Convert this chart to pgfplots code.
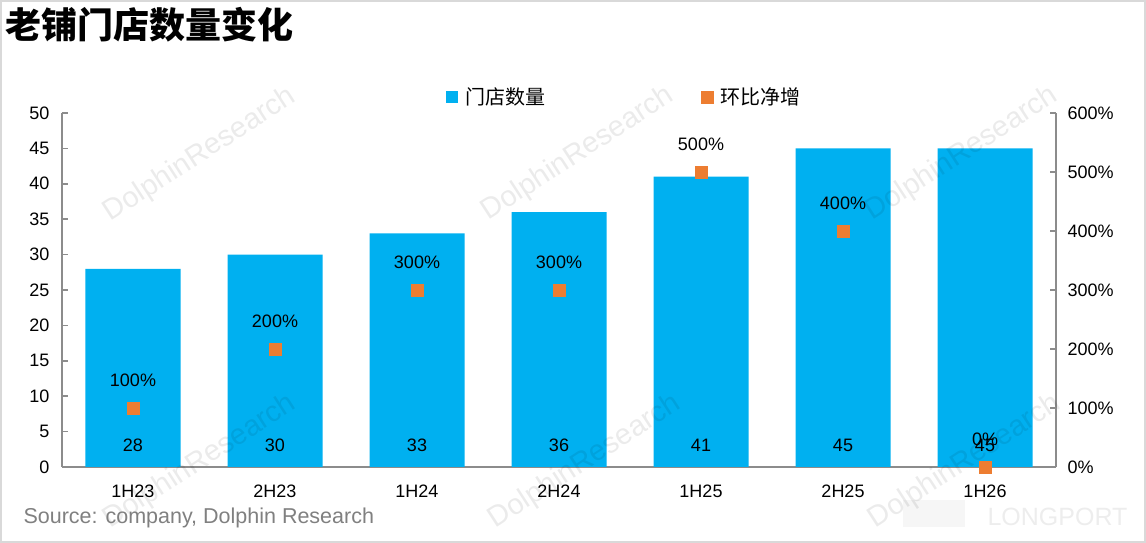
\documentclass[border=0pt]{standalone}
\usepackage{fontspec}
\setmainfont{Liberation Sans}
\newfontfamily\cjk{Noto Sans CJK SC}
\usepackage{pgfplots}
\pgfplotsset{compat=1.18}
\definecolor{barblue}{HTML}{00B0F0}
\definecolor{dotorange}{HTML}{ED7D31}
\definecolor{axgray}{HTML}{8C8C8C}
\definecolor{srcgray}{HTML}{808080}
\begin{document}
\begin{tikzpicture}[x=1pt,y=1pt]
\path[use as bounding box] (0,0) rectangle (1146,543);
\fill[white] (0,0) rectangle (1146,543);
\begin{axis}[
  at={(133pt,76pt)}, anchor=origin, scale only axis,
  width=994pt, height=354pt,
  xmin=-0.5, xmax=6.5, ymin=0, ymax=50,
  axis y line*=left, axis x line*=bottom,
  axis line style={axgray, line width=1.5pt, -},
  xtick={0,...,6},
  xticklabels={1H23,2H23,1H24,2H24,1H25,2H25,1H26},
  x tick style={draw=none},
  ytick={0,5,...,50},
  tick align=inside, major tick length=6pt,
  y tick style={axgray, line width=1.5pt},
  /pgf/number format/assume math mode=true,
  every tick label/.append style={font=\fontsize{18}{20}\selectfont, text=black},
  yticklabel style={xshift=-9pt},
  xticklabel style={yshift=-14pt},
  legend style={at={(0.566,1.045)}, anchor=center, draw=none, fill=none,
    legend columns=2, font=\cjk\fontsize{20}{22}\selectfont,
    /tikz/every odd column/.append style={column sep=5pt},
    /tikz/every even column/.append style={column sep=154pt}},
  clip=false,
]
\addplot[ybar, bar width=95pt, fill=barblue, draw=none,
  legend image code/.code={\fill[barblue] (0pt,-6pt) rectangle (12pt,6pt);}]
  coordinates {(0,28) (1,30) (2,33) (3,36) (4,41) (5,45) (6,45)};
\addlegendentry{门店数量}
\addlegendimage{legend image code/.code={\fill[dotorange] (0pt,-6pt) rectangle (12pt,6pt);}}
\addlegendentry{环比净增}
\addplot[draw=none, mark=none, nodes near coords, point meta=explicit symbolic,
  every node near coord/.append style={anchor=center, font=\fontsize{18}{20}\selectfont, text=black}, forget plot]
  coordinates {(0,3.1)[28] (1,3.1)[30] (2,3.1)[33] (3,3.1)[36] (4,3.1)[41] (5,3.1)[45] (6,3.1)[45]};
\end{axis}
\begin{axis}[
  at={(133pt,76pt)}, anchor=origin, scale only axis,
  width=994pt, height=354pt,
  xmin=-0.5, xmax=6.5, ymin=0, ymax=600,
  axis y line*=right, axis x line=none,
  axis line style={axgray, line width=1.5pt, -},
  ytick={0,100,...,600},
  yticklabel={\pgfmathprintnumber{\tick}\%},
  tick align=inside, major tick length=6pt,
  y tick style={axgray, line width=1.5pt},
  /pgf/number format/assume math mode=true,
  every tick label/.append style={font=\fontsize{18}{20}\selectfont, text=black},
  yticklabel style={xshift=8pt},
  clip=false,
]
\addplot[only marks, mark=square*, mark size=6pt, color=dotorange,
  nodes near coords={\pgfmathprintnumber{\pgfplotspointmeta}\%},
  every node near coord/.append style={anchor=center, yshift=28pt, font=\fontsize{18}{20}\selectfont, text=black}]
  coordinates {(0,100) (1,200) (2,300) (3,300) (4,500) (5,400) (6,0)};
\end{axis}
% watermarks
\foreach \cx/\cy in {200/388, 578/389, 962/389, 200/81, 585/81, 965/81}{
  \node[rotate=33, text=black, opacity=0.08, font=\fontsize{29}{30}\selectfont] at (\cx,\cy) {DolphinResearch};
}
\fill[black, opacity=0.035] (903,16) rectangle (965,43);
\node[text=black, opacity=0.07, font=\fontsize{25}{27}\selectfont, anchor=west] at (984,26) {LONGPORT};
% title and source
\node[anchor=west, font=\cjk\bfseries\fontsize{36}{38}\selectfont] at (2,518) {老铺门店数量变化};
\node[anchor=west, text=srcgray, font=\fontsize{21.5}{23}\selectfont] at (20,25) {Source: company, Dolphin Research};
\draw[color=black!15, line width=2pt] (1,1) rectangle (1145,542);
\end{tikzpicture}
\end{document}
